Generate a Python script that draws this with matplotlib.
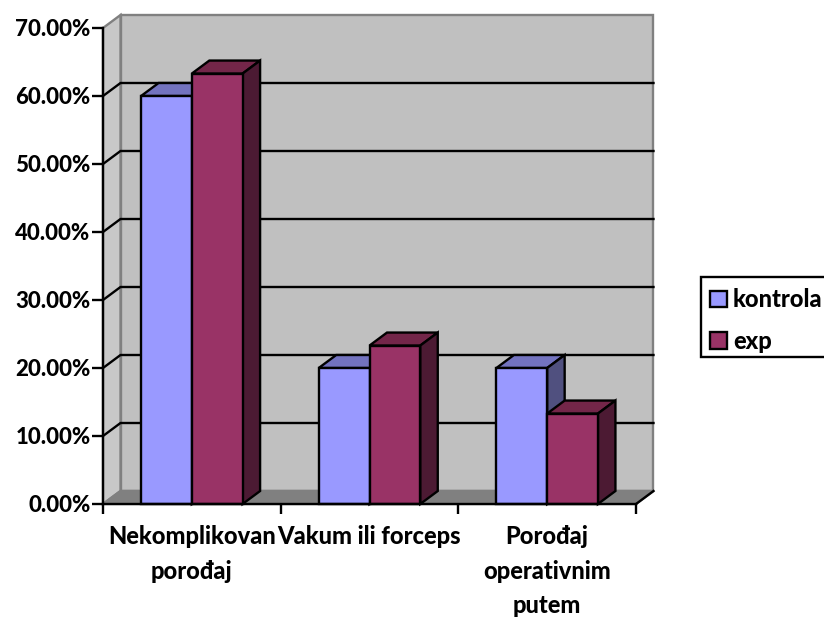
import matplotlib
matplotlib.use("Agg")
import matplotlib.pyplot as plt
from matplotlib.patches import Polygon, Rectangle, Patch

categories = ["Nekomplikovan\nporođaj", "Vakum ili forceps", "Porođaj\noperativnim\nputem"]
kontrola = [60, 20, 20]
exp = [63.3, 23.3, 13.3]
series_names = ["kontrola", "exp"]
yticks = [0, 10, 20, 30, 40, 50, 60, 70]

W, H = 824, 619
plt.rcParams['font.family'] = ['Lato', 'DejaVu Sans']
WT = 900
FS_Y = 16.0
FS_X = 17.0
FS_LEG = 17.0

fig = plt.figure(figsize=(W/100, H/100), dpi=100)
L, R, T, B = 103, 636, 28, 504
ax = fig.add_axes([L/W, (H-B)/H, (R-L)/W, (B-T)/H])
ax.set_xlim(0, 3)
ax.set_ylim(0, 70)
ax.patch.set_visible(False)

DX = 17.5 * 3 / (R-L)
DY = 13 * 70 / (B-T)
BW = 1/3.5
LW = 1.7
GRAY = "#808080"

def poly(pts, fc, ec="none", lw=LW, z=1):
    ax.add_patch(Polygon(pts, closed=True, facecolor=fc, edgecolor=ec, linewidth=lw,
                         zorder=z, clip_on=False, joinstyle="miter"))

# walls and floor
poly([(DX, DY), (3+DX, DY), (3+DX, 70+DY), (DX, 70+DY)], "#c0c0c0", GRAY, z=1)
poly([(0, 0), (DX, DY), (DX, 70+DY), (0, 70)], "#c8c8c8", GRAY, z=1.1)
poly([(0, 0), (3, 0), (3+DX, DY), (DX, DY)], GRAY, GRAY, z=1.2)
for v in yticks[1:-1]:
    ax.plot([0, DX, 3+DX], [v, v+DY, v+DY], color="black", lw=LW, zorder=1.5,
            clip_on=False, solid_joinstyle="miter")
ax.plot([3, 3+DX], [0, DY], color="black", lw=LW, zorder=1.5, clip_on=False)

# bars
colors = [("#9999ff", "#7373bf", "#50507f"), ("#993366", "#732649", "#4c1a33")]
z = 3
for i in range(len(categories)):
    for j, vals in enumerate([kontrola, exp]):
        x0 = i + 0.5 - BW + j * BW
        x1 = x0 + BW
        v = vals[i]
        front, top, side = colors[j]
        poly([(x0, v), (x1, v), (x1+DX, v+DY), (x0+DX, v+DY)], top, "black", z=z)
        poly([(x1, 0), (x1+DX, DY), (x1+DX, v+DY), (x1, v)], side, "black", z=z)
        ax.bar(x0, v, BW, align="edge", color=front, edgecolor="black", linewidth=LW,
               zorder=z+0.1, clip_on=False)
        z += 1

for s in ("top", "right"):
    ax.spines[s].set_visible(False)
for s in ("left", "bottom"):
    ax.spines[s].set_linewidth(LW)
    ax.spines[s].set_zorder(20)

ax.set_yticks(yticks)
ax.set_yticklabels([f"{v:.2f}%" for v in yticks], fontsize=FS_Y, fontweight=WT)
ax.tick_params(axis="y", length=8, width=LW, pad=1)
ax.set_xticks([0, 1, 2, 3])
ax.set_xticklabels([])
ax.set_xticks([0.5, 1.5, 2.5], minor=True)
ax.set_xticklabels(categories, minor=True, fontsize=FS_X, fontweight=WT,
                   linespacing=1.62, va="top")
ax.tick_params(axis="x", which="major", length=7, width=LW)
ax.tick_params(axis="x", which="minor", length=0, pad=15)

# legend
fig.add_artist(Rectangle((701/W, 1-357/H), 140/W, 80/H, transform=fig.transFigure,
                         facecolor="white", edgecolor="black", linewidth=LW, zorder=5))
handles = [Patch(facecolor=colors[k][0], edgecolor="black", linewidth=LW, label=series_names[k])
           for k in range(2)]
leg = fig.legend(handles=handles, loc="upper left", bbox_to_anchor=(701/W, 1-278.5/H),
                 frameon=False, prop={"size": FS_LEG, "weight": WT}, handlelength=0.68,
                 handleheight=0.68, handletextpad=0.27, labelspacing=0.8, borderaxespad=0)
leg.set_zorder(6)

fig.savefig("out.png", dpi=100)
